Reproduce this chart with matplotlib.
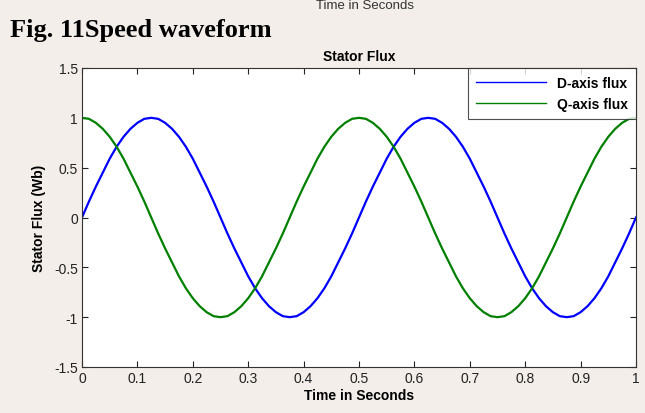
import numpy as np
import matplotlib.pyplot as plt

# time samples (s)
t = [i * 0.0125 for i in range(81)]

# values, one period = 40 samples
d_period = [0, 0.16, 0.31, 0.45, 0.59, 0.71, 0.81, 0.89, 0.95, 0.99,
            1.0, 0.99, 0.95, 0.89, 0.81, 0.71, 0.59, 0.45, 0.31, 0.16,
            0, -0.16, -0.31, -0.45, -0.59, -0.71, -0.81, -0.89, -0.95, -0.99,
            -1.0, -0.99, -0.95, -0.89, -0.81, -0.71, -0.59, -0.45, -0.31, -0.16]
q_period = [1.0, 0.99, 0.95, 0.89, 0.81, 0.71, 0.59, 0.45, 0.31, 0.16,
            0, -0.16, -0.31, -0.45, -0.59, -0.71, -0.81, -0.89, -0.95, -0.99,
            -1.0, -0.99, -0.95, -0.89, -0.81, -0.71, -0.59, -0.45, -0.31, -0.16,
            0, 0.16, 0.31, 0.45, 0.59, 0.71, 0.81, 0.89, 0.95, 0.99]
d_flux = d_period + d_period + [0]
q_flux = q_period + q_period + [1.0]

x_ticks = [0, 0.1, 0.2, 0.3, 0.4, 0.5, 0.6, 0.7, 0.8, 0.9, 1]
x_ticklabels = ['0', '0.1', '0.2', '0.3', '0.4', '0.5', '0.6', '0.7', '0.8', '0.9', '1']
y_ticks = [-1.5, -1, -0.5, 0, 0.5, 1, 1.5]
y_ticklabels = ['-1.5', '-1', '-0.5', '0', '0.5', '1', '1.5']

plt.rcParams['font.family'] = ['Liberation Sans', 'DejaVu Sans']

fig = plt.figure(figsize=(6.45, 4.14), dpi=100, facecolor='#f3eee9')
ax = fig.add_axes([82 / 645, 1 - 368 / 414, (636 - 82) / 645, (368 - 69) / 414])

ax.plot(t, d_flux, color='#0000ff', lw=1.6, label='D-axis flux')
ax.plot(t, q_flux, color='#008000', lw=1.6, label='Q-axis flux')

ax.set_xlim(0, 1)
ax.set_ylim(-1.5, 1.5)
ax.set_xticks(x_ticks)
ax.set_xticklabels(x_ticklabels)
ax.set_yticks(y_ticks)
ax.set_yticklabels(y_ticklabels)
ax.tick_params(direction='in', top=True, right=True, length=4, width=0.8,
               labelsize=10, colors='#222222', pad=3)
for s in ax.spines.values():
    s.set_color('#333333')
    s.set_linewidth(0.8)

ax.set_xlabel('Time in Seconds', fontsize=10, fontweight='bold', labelpad=2)
ax.set_ylabel('Stator Flux (Wb)', fontsize=10, fontweight='bold', labelpad=6)
ax.set_title('Stator Flux', fontsize=10, fontweight='bold', pad=6)

leg = ax.legend(loc='upper right', fontsize=10, frameon=True, fancybox=False,
                borderaxespad=0, handlelength=5.0, borderpad=0.6,
                labelspacing=0.45, handletextpad=0.8)
leg.get_frame().set_edgecolor('#222222')
leg.get_frame().set_linewidth(0.8)
for txt in leg.get_texts():
    txt.set_fontweight('bold')
for ln in leg.get_lines():
    ln.set_linewidth(1.0)

# page text around the figure
fig.text(365 / 645, 1 - 6 / 414, 'Time in Seconds', fontsize=9.5, color='#333333',
         ha='center', va='center')
fig.text(10 / 645, 1 - 30 / 414, 'Fig. 11Speed waveform', fontsize=19,
         fontweight='bold', family='Liberation Serif', ha='left', va='center')

fig.savefig('out.png', dpi=100, facecolor=fig.get_facecolor())
